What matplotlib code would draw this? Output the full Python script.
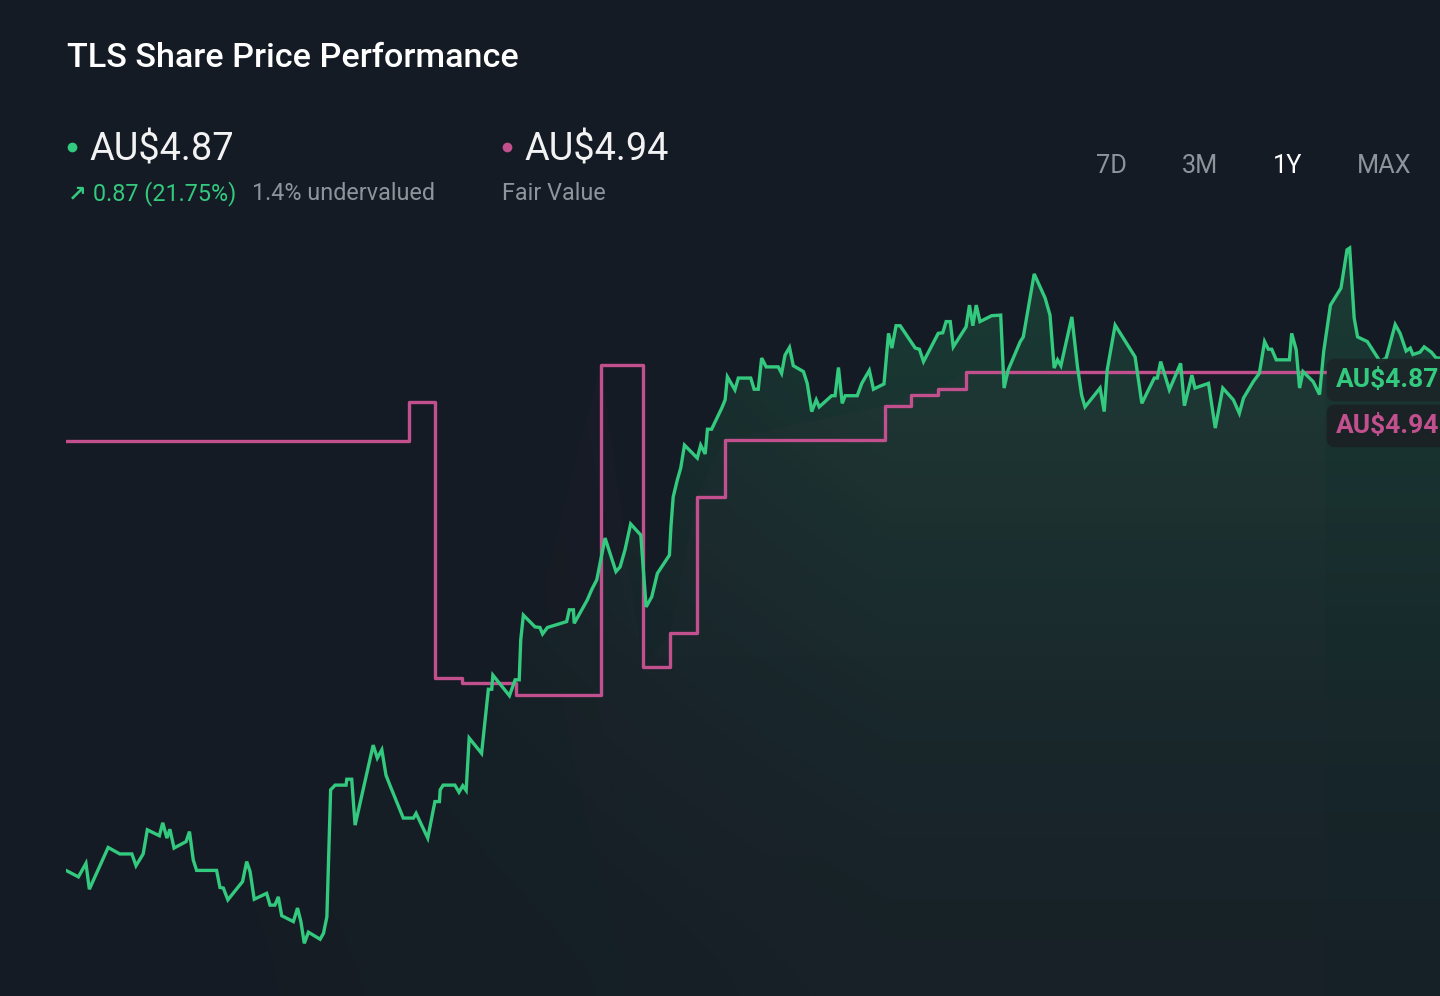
import numpy as np
import matplotlib.pyplot as plt
from matplotlib.lines import Line2D

W, H = 1440, 996
BG = '#151b24'
GREEN = '#33c97e'
PINK = '#c2508e'
GREY = '#8e949c'
plt.rcParams['font.family'] = ['Roboto', 'DejaVu Sans']

# TLS share price over the 1Y window (days since start, AU$)
price_days = [0, 3.3, 5.3, 6.2, 11.2, 14.3, 17.5, 18.6, 20.5, 21.6, 24.8, 25.7, 26.8, 27.6,
              28.7, 31.9, 32.8, 33.8, 34.7, 40.0, 40.9, 41.8, 43.0, 46.9, 48.0, 48.9, 50.0,
              53.3, 54.2, 55.5, 56.4, 57.3, 60.4, 61.5, 62.4, 63.3, 64.4, 67.5, 68.4, 69.3,
              70.3, 71.5, 74.4, 74.6, 75.9, 76.8, 81.6, 82.7, 83.9, 85.0, 86.1, 89.6, 92.3,
              93.0, 96.1, 98.0, 99.2, 99.4, 100.2, 103.3, 104.4, 105.4, 106.3, 107.1, 110.4,
              112.2, 113.1, 113.4, 117.8, 119.3, 120.4, 120.8, 121.5, 124.6, 125.9, 126.6,
              127.9, 133.0, 133.7, 134.8, 135.0, 138.5, 139.7, 141.0, 143.2, 146.1, 147.2,
              148.5, 150.0, 152.7, 154.1, 155.6, 157.1, 160.3, 160.7, 161.3, 162.4, 163.3,
              164.3, 167.7, 168.6, 169.8, 170.4, 171.5, 174.2, 175.1, 175.7, 177.7, 178.6,
              181.9, 182.8, 183.9, 184.8, 186.0, 189.2, 190.1, 191.0, 192.2, 193.2, 195.9,
              196.9, 198.1, 199.3, 200.1, 203.4, 204.3, 205.2, 206.2, 207.0, 210.2, 211.4,
              213.4, 214.5, 217.3, 218.5, 219.4, 220.5, 221.6, 225.6, 226.7, 227.8, 231.7,
              232.9, 233.8, 234.9, 235.7, 239.1, 240.0, 240.9, 241.8, 242.8, 245.9, 248.3,
              249.2, 250.3, 253.5, 254.3, 257.2, 260.1, 261.4, 262.5, 263.4, 264.3, 267.2,
              268.7, 269.8, 270.7, 274.7, 275.8, 276.6, 278.7, 284.0, 285.8, 289.1, 289.9,
              290.8, 293.1, 296.1, 297.1, 299.1, 299.9, 303.5, 305.3, 307.3, 310.1, 311.7,
              312.8, 315.4, 317.0, 318.4, 319.4, 320.3, 321.5, 325.0, 325.6, 326.8, 327.7,
              328.6, 331.3, 333.0, 334.1, 335.9, 338.7, 340.3, 341.0, 342.2, 343.1, 345.7,
              347.4, 349.1, 350.7, 353.1, 354.4, 356.0, 357.1, 357.8, 359.7, 360.8, 362.7,
              364.0, 365.0]
price_vals = [4.001, 3.990, 4.013, 3.969, 4.040, 4.029, 4.029, 4.009, 4.029, 4.070, 4.060,
              4.082, 4.056, 4.071, 4.039, 4.050, 4.067, 4.019, 4.001, 4.001, 3.972, 3.971,
              3.951, 3.982, 4.016, 3.999, 3.952, 3.962, 3.942, 3.942, 3.956, 3.924, 3.914,
              3.937, 3.914, 3.877, 3.896, 3.884, 3.894, 3.922, 4.138, 4.146, 4.146, 4.156,
              4.156, 4.078, 4.214, 4.192, 4.206, 4.163, 4.145, 4.090, 4.090, 4.098, 4.056,
              4.118, 4.118, 4.138, 4.146, 4.146, 4.134, 4.145, 4.137, 4.226, 4.200, 4.309,
              4.309, 4.333, 4.298, 4.325, 4.325, 4.393, 4.435, 4.415, 4.414, 4.403, 4.414,
              4.424, 4.444, 4.444, 4.421, 4.461, 4.479, 4.495, 4.566, 4.509, 4.517, 4.546,
              4.590, 4.571, 4.449, 4.466, 4.506, 4.537, 4.585, 4.636, 4.665, 4.685, 4.724,
              4.702, 4.724, 4.709, 4.751, 4.751, 4.787, 4.801, 4.840, 4.818, 4.838, 4.838,
              4.819, 4.819, 4.872, 4.857, 4.857, 4.846, 4.877, 4.890, 4.859, 4.849, 4.829,
              4.781, 4.801, 4.789, 4.808, 4.808, 4.856, 4.795, 4.808, 4.808, 4.829, 4.851,
              4.819, 4.828, 4.914, 4.889, 4.927, 4.927, 4.889, 4.887, 4.866, 4.914, 4.915,
              4.934, 4.934, 4.891, 4.925, 4.962, 4.927, 4.962, 4.934, 4.944, 4.945, 4.821,
              4.852, 4.900, 4.908, 5.015, 4.974, 4.945, 4.855, 4.869, 4.859, 4.942, 4.857,
              4.809, 4.789, 4.821, 4.781, 4.852, 4.928, 4.874, 4.795, 4.838, 4.838, 4.866,
              4.818, 4.863, 4.791, 4.843, 4.821, 4.829, 4.753, 4.821, 4.801, 4.778, 4.804,
              4.832, 4.846, 4.900, 4.887, 4.887, 4.869, 4.869, 4.914, 4.886, 4.821, 4.849,
              4.832, 4.810, 4.883, 4.962, 4.991, 5.056, 5.059, 4.940, 4.908, 4.900, 4.883,
              4.866, 4.872, 4.929, 4.914, 4.884, 4.889, 4.878, 4.882, 4.891, 4.882, 4.872,
              4.872]

# fair value estimate (step changes)
fv_days = [0, 91, 98, 105.2, 119.6, 142.1, 153.3, 160.5, 167.6, 175.0, 217.6, 224.5,
           231.7, 239.1, 334.5]
fv_vals = [4.731, 4.797, 4.328, 4.320, 4.299, 4.860, 4.347, 4.405, 4.636, 4.733, 4.791,
           4.809, 4.819, 4.848, 4.848]

periods = ['7D', '3M', '1Y', 'MAX']
selected = '1Y'

fig = plt.figure(figsize=(W / 100, H / 100), dpi=100, facecolor=BG)


def fx(x):
    return x / W


def fy(y):
    return 1 - y / H


ax = fig.add_axes([fx(66), 0, 1374 / W, 766 / H])
ax.set_facecolor(BG)
ylo, yhi = 3.7875, 5.0897
ax.set_xlim(0, 365)
ax.set_ylim(ylo, yhi)
ax.axis('off')


def gradient_under(x, y, rgb, amax, start, ramp, pw):
    fb = ax.fill_between(x, y, ylo, facecolor='none', edgecolor='none')
    gx = np.clip((np.linspace(0, 1, 500) - start) / ramp, 0, 1) ** 1.2
    gy = np.linspace(0, 1, 300)
    gy = 0.2 + 0.8 * gy ** pw
    arr = np.zeros((300, 500, 4))
    arr[..., :3] = rgb
    arr[..., 3] = amax * gy[:, None] * gx[None, :]
    im = ax.imshow(arr, extent=[0, 365, ylo, yhi], origin='lower', aspect='auto',
                   interpolation='bilinear', zorder=1)
    im.set_clip_path(fb.get_paths()[0], transform=ax.transData)


gradient_under(fv_days, fv_vals, (0.76, 0.31, 0.56), 0.045, 0.3, 0.12, 1.5)
gradient_under(price_days, price_vals, (0.2, 0.79, 0.49), 0.2, 0.0, 0.6, 1.5)

ax.step(fv_days, fv_vals, where='post', color=PINK, lw=2.4, zorder=3)
ax.plot(price_days, price_vals, color=GREEN, lw=2.4, zorder=4, solid_joinstyle='miter')

# header
fig.text(fx(67), fy(67), 'TLS Share Price Performance', color='white', fontsize=24.6,
         fontweight='medium', va='baseline')
fig.add_artist(Line2D([fx(72)], [fy(147)], marker='o', ms=7, color=GREEN, mec='none',
                      transform=fig.transFigure))
fig.text(fx(89), fy(161), 'AU$4.87', color='#f2f2f2', fontsize=27.3, va='baseline')
fig.text(fx(68), fy(200), '↗', color=GREEN, fontsize=16, va='baseline', fontweight='bold',
         family=['DejaVu Sans'])
fig.text(fx(93), fy(200), '0.87 (21.75%)', color=GREEN, fontsize=16.8, va='baseline')
fig.text(fx(252), fy(200), '1.4% undervalued', color=GREY, fontsize=16.8, va='baseline')
fig.add_artist(Line2D([fx(507)], [fy(147)], marker='o', ms=7, color=PINK, mec='none',
                      transform=fig.transFigure))
fig.text(fx(524), fy(161), 'AU$4.94', color='#f2f2f2', fontsize=27.3, va='baseline')
fig.text(fx(502), fy(200), 'Fair Value', color=GREY, fontsize=16.8, va='baseline')

period_x = [1096, 1182, 1273, 1357]
for p, x in zip(periods, period_x):
    fig.text(fx(x), fy(173), p, color='white' if p == selected else GREY, fontsize=18.2,
             va='baseline')

# end-of-line value tags
fig.text(fx(1336), fy(387), 'AU$4.87', color=GREEN, fontsize=19, fontweight='bold',
         va='baseline', zorder=6,
         bbox=dict(boxstyle='round,pad=0.35,rounding_size=0.3', fc='#1c2628', ec='none',
                   alpha=0.95))
fig.text(fx(1336), fy(433), 'AU$4.94', color=PINK, fontsize=19, fontweight='bold',
         va='baseline', zorder=6,
         bbox=dict(boxstyle='round,pad=0.35,rounding_size=0.3', fc='#1b2226', ec='none',
                   alpha=0.95))

fig.savefig('out.png', dpi=100, facecolor=BG)
